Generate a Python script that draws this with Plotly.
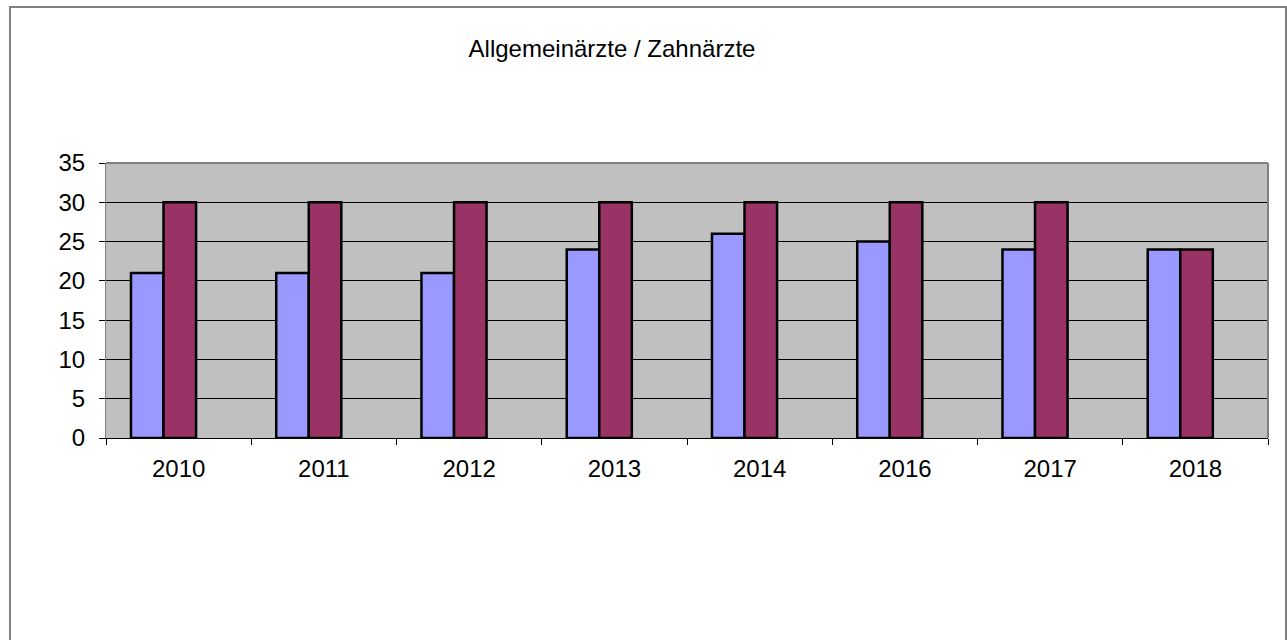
import plotly.graph_objects as go

years = ["2010", "2011", "2012", "2013", "2014", "2016", "2017", "2018"]
allgemein = [21, 21, 21, 24, 26, 25, 24, 24]
zahn = [30, 30, 30, 30, 30, 30, 30, 24]

W, H = 1287, 640
L, R, T, B = 106, 1268, 163, 438
pw, ph = R - L, B - T

fig = go.Figure()
fig.add_trace(go.Bar(x=years, y=allgemein, name="Allgemeinärzte",
                     marker=dict(color="#9999FF", line=dict(color="black", width=2.5)),
                     width=0.224, offset=-0.328))
fig.add_trace(go.Bar(x=years, y=zahn, name="Zahnärzte",
                     marker=dict(color="#993366", line=dict(color="black", width=2.5)),
                     width=0.224, offset=-0.104))

font = "Liberation Sans, Arial, sans-serif"
fig.update_layout(
    width=W, height=H,
    margin=dict(l=L, r=W - R, t=T, b=H - B, pad=0),
    paper_bgcolor="white", plot_bgcolor="#C0C0C0",
    barmode="overlay", showlegend=False,
    font=dict(family=font, size=24, color="black"),
    title=dict(text="Allgemeinärzte / Zahnärzte", x=612 / W, xanchor="center",
               y=1 - 49 / H, yanchor="middle", font=dict(size=24)),
    xaxis=dict(type="category", range=[-0.5, 7.5], tickson="boundaries",
               ticks="outside", ticklen=6, tickcolor="black", tickwidth=1,
               showline=True, linecolor="black", linewidth=1,
               showgrid=False, zeroline=False, ticklabelstandoff=9),
    yaxis=dict(range=[0, 35], dtick=5, ticks="outside", ticklen=6, tickcolor="black",
               showgrid=True, gridcolor="black", gridwidth=1,
               showline=True, linecolor="#808080", linewidth=1,
               zeroline=False, ticklabelstandoff=9),
)

# plot area border (top/right gray)
fig.add_shape(type="line", xref="paper", yref="paper", x0=0, x1=1, y0=1, y1=1,
              line=dict(color="#808080", width=2), layer="above")
fig.add_shape(type="line", xref="paper", yref="paper", x0=1, x1=1, y0=0, y1=1,
              line=dict(color="#808080", width=2), layer="above")

# outer chart frame
fx0 = (10 - L) / pw
fx1 = (1286 - L) / pw
fy1 = (B - 7) / ph
fy0 = (B - 700) / ph
fig.add_shape(type="rect", xref="paper", yref="paper", x0=fx0, x1=fx1, y0=fy0, y1=fy1,
              line=dict(color="#808080", width=2), fillcolor="rgba(0,0,0,0)", layer="below")

fig.write_html("out.html", config={"displayModeBar": False})

with open("out.html", "r", encoding="utf-8") as f:
    html = f.read()
html = html.replace("<head>", "<head><style>html,body{margin:0;padding:0;overflow:hidden}</style>", 1)
with open("out.html", "w", encoding="utf-8") as f:
    f.write(html)
